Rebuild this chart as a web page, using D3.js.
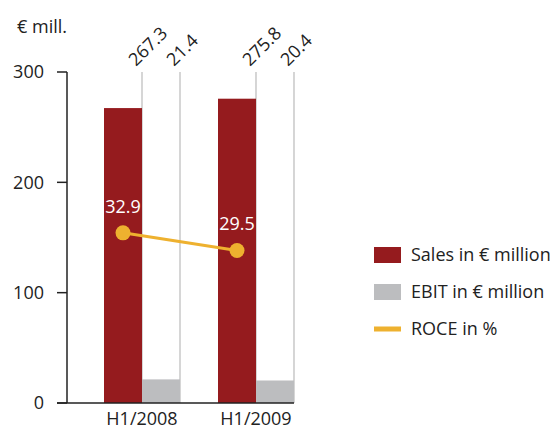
<!DOCTYPE html>
<html>
<head>
<meta charset="utf-8">
<script src="https://cdn.jsdelivr.net/npm/d3@7/dist/d3.min.js"></script>
<style>
  body { margin: 0; background: #fff; }
  text { font-family: "Open Sans", sans-serif; fill: #222; }
</style>
</head>
<body>
<div id="chart"></div>
<script>
const categories = ['H1/2008', 'H1/2009'];
const sales = [267.3, 275.8];
const ebit = [21.4, 20.4];
const roce = [32.9, 29.5];
const yTicks = [0, 100, 200, 300];
const legendItems = ['Sales in € million', 'EBIT in € million', 'ROCE in %'];

const width = 555, height = 430;
const colors = { sales: '#951b1e', ebit: '#bcbdbf', roce: '#eeb12f' };

const svg = d3.select('#chart').append('svg')
  .attr('width', width)
  .attr('height', height);

const axisX = 67;
const y = d3.scaleLinear().domain([0, 300]).range([403, 72]);
// ROCE is drawn on its own hidden scale
const yRoce = d3.scaleLinear().domain([0, 64]).range([403, 72]);

const x0 = d3.scaleBand()
  .domain(categories)
  .range([axisX, 331])
  .paddingInner(1 / 3)
  .paddingOuter(0.3246);
const x1 = d3.scaleBand()
  .domain(['sales', 'ebit'])
  .range([0, x0.bandwidth()]);

const data = categories.map((c, i) => ({ cat: c, sales: sales[i], ebit: ebit[i], roce: roce[i] }));

// thin grey guide lines at the right edge of each bar
const bars = [];
data.forEach(d => {
  ['sales', 'ebit'].forEach(k => bars.push({ cat: d.cat, key: k, value: d[k] }));
});

svg.append('g')
  .selectAll('line')
  .data(bars)
  .enter()
  .append('line')
    .attr('x1', d => x0(d.cat) + x1(d.key) + x1.bandwidth())
    .attr('x2', d => x0(d.cat) + x1(d.key) + x1.bandwidth())
    .attr('y1', y(300))
    .attr('y2', y(0))
    .attr('stroke', '#c8c8c8')
    .attr('stroke-width', 1.5);

svg.append('g')
  .selectAll('rect')
  .data(bars)
  .enter()
  .append('rect')
    .attr('x', d => x0(d.cat) + x1(d.key))
    .attr('y', d => y(d.value))
    .attr('width', x1.bandwidth())
    .attr('height', d => y(0) - y(d.value))
    .attr('fill', d => colors[d.key]);

// rotated value labels on top
svg.append('g')
  .selectAll('text')
  .data(bars)
  .enter()
  .append('text')
    .attr('transform', d => 'translate(' + (x0(d.cat) + x1(d.key) + x1.bandwidth() - 6) + ',67) rotate(-45)')
    .attr('font-size', 18)
    .text(d => d.value.toFixed(1));

// y axis
const yAxis = svg.append('g');
yAxis.append('line')
  .attr('x1', axisX).attr('x2', axisX)
  .attr('y1', y(300)).attr('y2', y(0))
  .attr('stroke', '#222').attr('stroke-width', 1.5);
yAxis.selectAll('.tick')
  .data(yTicks)
  .enter()
  .append('line')
    .attr('x1', axisX - 10).attr('x2', axisX)
    .attr('y1', d => y(d)).attr('y2', d => y(d))
    .attr('stroke', '#222').attr('stroke-width', 1.5);
yAxis.selectAll('text')
  .data(yTicks)
  .enter()
  .append('text')
    .attr('x', 44)
    .attr('y', d => y(d))
    .attr('dy', '0.36em')
    .attr('text-anchor', 'end')
    .attr('font-size', 18)
    .text(d => d);

// baseline
svg.append('line')
  .attr('x1', axisX - 10)
  .attr('x2', x0(categories[1]) + x0.bandwidth())
  .attr('y1', y(0)).attr('y2', y(0))
  .attr('stroke', '#222').attr('stroke-width', 1.5);

// category labels
svg.append('g')
  .selectAll('text')
  .data(categories)
  .enter()
  .append('text')
    .attr('x', d => x0(d) + x0.bandwidth() / 2)
    .attr('y', 425)
    .attr('text-anchor', 'middle')
    .attr('font-size', 18)
    .text(d => d);

svg.append('text')
  .attr('x', 17)
  .attr('y', 33)
  .attr('font-size', 18)
  .text('€ mill.');

// ROCE line
const cx = d => x0(d.cat) + x1('sales') + x1.bandwidth() / 2;
svg.append('path')
  .datum(data)
  .attr('fill', 'none')
  .attr('stroke', colors.roce)
  .attr('stroke-width', 3)
  .attr('d', d3.line().x(cx).y(d => yRoce(d.roce)));

svg.append('g')
  .selectAll('circle')
  .data(data)
  .enter()
  .append('circle')
    .attr('cx', cx)
    .attr('cy', d => yRoce(d.roce))
    .attr('r', 7.5)
    .attr('fill', colors.roce);

svg.append('g')
  .selectAll('text')
  .data(data)
  .enter()
  .append('text')
    .attr('x', cx)
    .attr('y', d => yRoce(d.roce) - 20)
    .attr('text-anchor', 'middle')
    .attr('font-size', 18)
    .style('fill', '#fff')
    .text(d => d.roce.toFixed(1));

// legend
const legend = svg.append('g').attr('transform', 'translate(374,255)');
legendItems.forEach((t, i) => {
  const g = legend.append('g').attr('transform', 'translate(0,' + (i * 37) + ')');
  if (i < 2) {
    g.append('rect')
      .attr('x', 0).attr('y', -8)
      .attr('width', 27).attr('height', 16)
      .attr('fill', i === 0 ? colors.sales : colors.ebit);
  } else {
    g.append('rect')
      .attr('x', 0).attr('y', -2.5)
      .attr('width', 27).attr('height', 5)
      .attr('fill', colors.roce);
  }
  g.append('text')
    .attr('x', 37)
    .attr('y', 0)
    .attr('dy', '0.36em')
    .attr('font-size', 18)
    .text(t);
});
</script>
</body>
</html>
